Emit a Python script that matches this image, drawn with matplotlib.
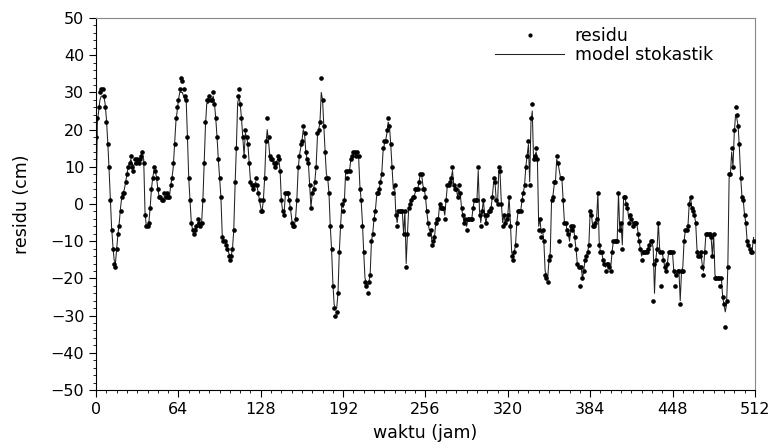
import numpy as np
import matplotlib
matplotlib.use("Agg")
import matplotlib.pyplot as plt
from matplotlib.ticker import MultipleLocator

# residu (cm), hourly
residu = [
    18, 23, 26, 30, 31, 31, 29, 26, 22, 16, 10, 1, -7, -12, -16, -17,
    -12, -8, -6, -2, 2, 3, 3, 6, 8, 10, 11, 13, 10, 9, 12, 11,
    12, 11, 12, 13, 14, 11, -3, -6, -6, -5, -1, 4, 7, 10, 9, 7,
    4, 2, 2, 1, 1, 3, 2, 3, 2, 2, 5, 7, 11, 16, 23, 26,
    28, 31, 34, 33, 31, 29, 28, 18, 7, 1, -5, -7, -8, -7, -6, -4,
    -5, -6, -5, 1, 11, 22, 28, 28, 29, 28, 28, 30, 27, 23, 18, 12,
    7, 2, -9, -10, -10, -11, -12, -14, -15, -14, -12, -7, 6, 15, 29, 31,
    27, 23, 18, 13, 20, 18, 16, 11, 6, 5, 4, 5, 7, 5, 3, 1,
    -2, -2, 1, 7, 17, 23, 18, 13, 12, 12, 11, 10, 11, 13, 12, 9,
    1, -2, -3, 3, 3, 3, 1, -1, -5, -6, -6, -4, 1, 10, 13, 16,
    17, 21, 19, 14, 12, 11, 5, -1, 3, 4, 6, 10, 19, 20, 22, 34,
    28, 21, 14, 7, 7, 3, -6, -12, -22, -28, -30, -29, -24, -13, -6, 0,
    -2, 1, 9, 7, 9, 9, 12, 13, 14, 14, 13, 14, 13, 4, 1, -6,
    -13, -21, -22, -24, -21, -19, -10, -8, -4, -2, 3, 3, 4, 6, 8, 15,
    17, 17, 20, 23, 21, 16, 10, 3, 5, -3, -6, -2, -2, -2, -2, -8,
    -2, -17, -8, -1, 0, 1, 2, 2, 4, 4, 4, 6, 8, 8, 4, 4,
    2, -2, -5, -8, -7, -11, -10, -9, -5, -4, -4, 0, -1, -1, -1, -4,
    1, 5, 5, 6, 7, 10, 5, 4, 4, 2, 5, 3, -1, -3, -5, -4,
    -7, -4, -4, -4, -4, -1, 1, 1, 1, 10, -3, -6, -2, 1, -3, -5,
    -3, -2, -2, -1, 2, 7, 6, 1, 0, 10, 9, 0, -6, -3, -5, -4,
    -3, 2, -6, -14, -15, -13, -11, -5, -2, -2, -2, 1, 3, 5, 10, 13,
    17, 5, 23, 27, 12, 13, 15, 12, -7, -4, -9, -7, -10, -19, -20, -21,
    -15, -14, 1, 2, 6, 6, 13, 11, -10, 7, 7, 1, -5, -5, -7, -8,
    -11, -6, -7, -6, -9, -12, -16, -17, -22, -17, -20, -18, -15, -14, -13, -11,
    -2, -3, -6, -6, -5, -4, 3, -11, -13, -13, -15, -16, -18, -16, -16, -17,
    -18, -13, -10, -10, -10, -10, 3, -7, -5, -12, 2, 2, 0, -1, -5, -3,
    -4, -6, -5, -5, -5, -8, -10, -12, -15, -13, -13, -13, -13, -12, -11, -10,
    -10, -26, -16, -15, -12, -5, -13, -22, -13, -15, -17, -18, -16, -13, -13, -13,
    -13, -18, -22, -19, -18, -18, -27, -18, -18, -10, -7, -7, -6, 0, 2, -1,
    -2, -3, -5, -13, -14, -14, -13, -17, -19, -13, -8, -8, -8, -8, -9, -14,
    -8, -20, -20, -20, -20, -22, -20, -25, -27, -33, -26, -17, 8, 8, 15, 10,
    20, 26, 24, 21, 16, 7, 2, 1, -3, -5, -10, -11, -12, -13, -13, -10,
]

# model stokastik (cm), hourly
model = [
    0, 22, 25, 28, 29, 29, 29, 27, 23, 17, 10, 2, -6, -11, -15, -16,
    -12, -8, -5, -1, 2, 3, 4, 6, 8, 10, 11, 12, 11, 10, 11, 11,
    12, 11, 12, 12, 13, 12, -2, -6, -6, -5, -1, 4, 7, 9, 9, 7,
    4, 2, 2, 1, 1, 2, 2, 3, 2, 2, 5, 7, 10, 16, 22, 25,
    28, 30, 30, 30, 29, 28, 28, 18, 7, 1, -5, -7, -7, -7, -6, -5,
    -5, -6, -5, 1, 11, 21, 27, 27, 28, 28, 28, 29, 27, 23, 18, 12,
    7, 2, -8, -10, -10, -11, -12, -13, -14, -14, -12, -7, 5, 15, 27, 29,
    27, 23, 18, 13, 19, 18, 16, 11, 6, 5, 4, 5, 6, 5, 3, 1,
    -1, -2, 1, 7, 16, 20, 17, 13, 12, 12, 11, 10, 11, 12, 12, 9,
    1, -2, -3, 2, 3, 3, 1, -1, -4, -6, -6, -4, 1, 9, 13, 15,
    17, 20, 19, 14, 12, 11, 5, -1, 3, 4, 6, 10, 18, 20, 22, 30,
    28, 21, 14, 8, 7, 3, -6, -12, -21, -27, -28, -28, -24, -13, -6, 0,
    -1, 1, 9, 8, 9, 9, 12, 13, 13, 14, 13, 13, 13, 5, 1, -5,
    -13, -20, -21, -22, -21, -19, -10, -8, -4, -2, 2, 3, 4, 6, 8, 14,
    16, 17, 19, 22, 21, 16, 10, 4, 5, -3, -5, -2, -2, -2, -2, -8,
    -2, -16, -8, -1, 0, 1, 2, 2, 3, 4, 4, 6, 8, 8, 5, 4,
    2, -2, -5, -7, -7, -10, -10, -9, -5, -4, -4, 0, -1, -1, -1, -3,
    1, 5, 5, 6, 7, 9, 5, 4, 4, 2, 4, 3, -1, -3, -5, -4,
    -6, -4, -4, -4, -4, -1, 1, 1, 1, 9, -2, -5, -2, 1, -3, -5,
    -3, -2, -2, -1, 2, 6, 6, 1, 0, 9, 8, 0, -5, -3, -5, -4,
    -3, 2, -5, -13, -14, -13, -11, -5, -2, -2, -2, 1, 3, 5, 10, 13,
    16, 6, 22, 25, 12, 13, 14, 12, -6, -4, -8, -7, -10, -18, -19, -20,
    -15, -13, 1, 2, 5, 6, 12, 11, 9, 7, 7, 1, -5, -5, -7, -8,
    -10, -6, -7, -6, -9, -12, -16, -17, -17, -17, -20, -18, -15, -14, -13, -11,
    -2, -3, -6, -6, -5, -4, 3, -10, -13, -13, -15, -16, -17, -16, -16, -17,
    -17, -13, -10, -10, -10, -10, 3, -7, -5, -11, 2, 2, 0, -1, -4, -3,
    -4, -5, -5, -5, -5, -7, -10, -12, -14, -13, -13, -13, -13, -12, -11, -10,
    -10, -12, -24, -15, -12, -5, -12, -13, -13, -15, -17, -18, -16, -13, -13, -13,
    -13, -18, -19, -19, -18, -18, -26, -18, -17, -10, -7, -7, -6, 0, 2, -1,
    -2, -3, -5, -12, -14, -14, -13, -16, -18, -13, -8, -8, -8, -8, -9, -14,
    -8, -19, -20, -20, -20, -20, -20, -25, -27, -29, -27, -17, 7, 8, 14, 10,
    19, 24, 23, 21, 15, 7, 2, 1, -3, -5, -10, -11, -12, -13, -12, -9,
]

waktu = np.arange(len(residu))

fig = plt.figure(figsize=(7.75, 4.46), dpi=100)
ax = fig.add_axes([0.124, 0.1256, 0.850, 0.834])

ax.plot(waktu, model, color="#222222", lw=0.75, label="model stokastik", zorder=2)
ax.plot(waktu, residu, ls="none", marker="o", ms=2.3, color="black", label="residu", zorder=3)

ax.set_xlim(0, 512)
ax.set_ylim(-50, 50)
ax.xaxis.set_major_locator(MultipleLocator(64))
ax.xaxis.set_minor_locator(MultipleLocator(8))
ax.yaxis.set_major_locator(MultipleLocator(10))
ax.yaxis.set_minor_locator(MultipleLocator(2))
ax.tick_params(which="major", direction="out", length=5, width=0.8, labelsize=11.5)
ax.tick_params(which="minor", direction="out", length=2.5, width=0.6)
ax.tick_params(top=False, right=False, which="both")

for side in ["top", "right"]:
    ax.spines[side].set_color("#888888")
    ax.spines[side].set_linewidth(0.8)

ax.set_xlabel("waktu (jam)", fontsize=12.5, labelpad=5)
ax.set_ylabel("residu (cm)", fontsize=12.5, labelpad=14)

handles, labels = ax.get_legend_handles_labels()
leg = ax.legend(handles[::-1], labels[::-1], loc="upper right", frameon=False,
                fontsize=12.5, handlelength=4.0, handletextpad=0.6,
                labelspacing=0.05, borderaxespad=0.0,
                bbox_to_anchor=(0.947, 0.995))
leg.legend_handles[0].set_markersize(2.0)

fig.savefig("out.png", dpi=100)
